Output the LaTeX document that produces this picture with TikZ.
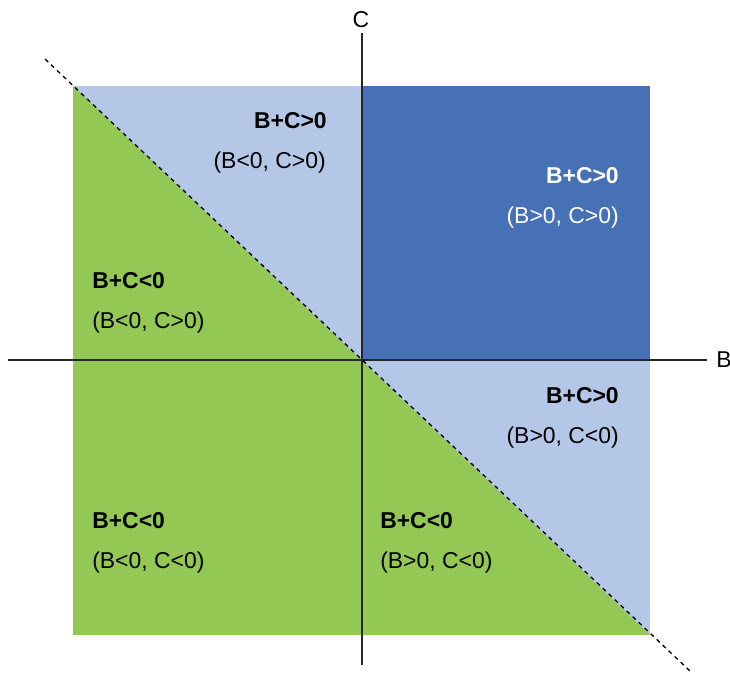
\documentclass[tikz,border=0pt]{standalone}
\usepackage{fontspec}
\setmainfont{Liberation Sans}
\usetikzlibrary{positioning}
\definecolor{azulClaro}{RGB}{180,199,231}
\definecolor{azulEscuro}{RGB}{70,113,182}
\definecolor{verdeLima}{RGB}{146,200,83}
\tikzset{
  eixo/.style={line width=1.1pt, black!85},
  diagonal/.style={line width=1pt, dash pattern=on 3.2pt off 3pt},
  titulo/.style={inner sep=0pt, font=\fontsize{17.2}{20}\selectfont\bfseries},
  sinais/.style={inner sep=0pt, font=\fontsize{17.2}{20}\selectfont},
}

\begin{document}
\begin{tikzpicture}[x=0.75pt, y=-0.75pt]
  \useasboundingbox (0,0) rectangle (730,672);
  \coordinate (so) at (73,86);  \coordinate (se) at (650,86);
  \coordinate (io) at (73,635); \coordinate (ie) at (650,635);
  \coordinate (o) at (362,360);
  \fill[azulClaro] (so) rectangle (ie);
  \fill[azulEscuro] (o) rectangle (se);
  \fill[verdeLima] (so) -- (io) -- (ie) -- cycle;
  \coordinate (cbaixo) at (362,665); \coordinate (ctopo) at (362,33);
  \coordinate (besq) at (8,360);     \coordinate (bdir) at (707,360);
  \draw[eixo] (cbaixo) -- (ctopo);
  \draw[eixo] (besq) -- (bdir);
  \coordinate (d1) at (45,59); \coordinate (d2) at (690,671);
  \draw[diagonal] (d1) -- (d2);
  \node[sinais, anchor=base] (c) at (361,27) {C};
  \node[sinais, anchor=base west] (b) at (716,367) {B};
  \node[titulo, anchor=base east] (t1) at (327,128) {B+C>0};
  \node[sinais, anchor=base east] (s1) at (326,168) {(B<0, C>0)};
  \node[titulo, anchor=base east, white] (t2) at (619,183) {B+C>0};
  \node[sinais, anchor=base east, white] (s2) at (619,223) {(B>0, C>0)};
  \node[titulo, anchor=base west] (t3) at (92,288) {B+C<0};
  \node[sinais, anchor=base west] (s3) at (92,328) {(B<0, C>0)};
  \node[titulo, anchor=base east] (t4) at (619,403) {B+C>0};
  \node[sinais, anchor=base east] (s4) at (619,443) {(B>0, C<0)};
  \node[titulo, anchor=base west] (t5) at (92,528) {B+C<0};
  \node[sinais, anchor=base west] (s5) at (92,568) {(B<0, C<0)};
  \node[titulo, anchor=base west] (t6) at (380,528) {B+C<0};
  \node[sinais, anchor=base west] (s6) at (380,568) {(B>0, C<0)};
\end{tikzpicture}
\end{document}
